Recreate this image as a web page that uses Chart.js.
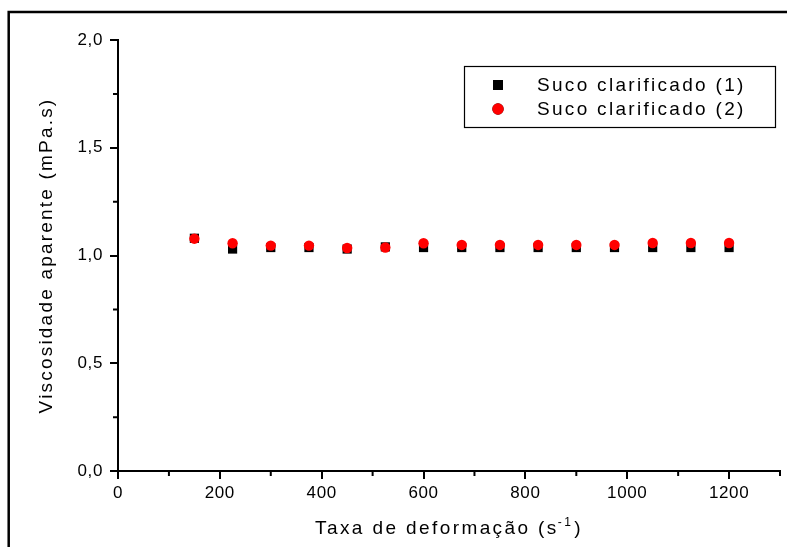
<!DOCTYPE html>
<html>
<head>
<meta charset="utf-8">
<script src="https://cdn.jsdelivr.net/npm/chart.js@4.4.1/dist/chart.umd.min.js"></script>
<style>
  html, body { margin: 0; padding: 0; background: #fff; }
</style>
</head>
<body>
<canvas id="chart" width="787" height="547"></canvas>
<script>
// shear rate (1/s)
var shearRate = [150, 225, 300, 375, 450, 525, 600, 675, 750, 825, 900, 975, 1050, 1125, 1200];
var suco1 = [1.08, 1.03, 1.037, 1.037, 1.03, 1.04, 1.037, 1.037, 1.037, 1.037, 1.037, 1.037, 1.037, 1.037, 1.037];
var suco2 = [1.078, 1.057, 1.046, 1.046, 1.035, 1.037, 1.057, 1.049, 1.049, 1.049, 1.049, 1.049, 1.058, 1.058, 1.058];
var seriesNames = ['Suco clarificado (1)', 'Suco clarificado (2)'];
var xMajor = [0, 200, 400, 600, 800, 1000, 1200];
var xMinor = [100, 300, 500, 700, 900, 1100, 1300];
var yMinor = [0.25, 0.75, 1.25, 1.75];

var FONT = "'Liberation Sans', Arial, sans-serif";

function points(ys) {
    return shearRate.map(function (x, i) { return { x: x, y: ys[i] }; });
}

var extras = {
    id: 'extras',
    beforeDraw: function (chart) {
        chart.ctx.letterSpacing = '0.6px';
    },
    afterDraw: function (chart) {
        var ctx = chart.ctx;
        var xs = chart.scales.x, ys = chart.scales.y;
        var a = chart.chartArea;
        ctx.save();
        ctx.strokeStyle = '#000';
        ctx.fillStyle = '#000';

        // minor ticks
        ctx.lineWidth = 2;
        ctx.beginPath();
        xMinor.forEach(function (v) {
            var px = xs.getPixelForValue(v);
            ctx.moveTo(px, a.bottom);
            ctx.lineTo(px, a.bottom + 5);
        });
        yMinor.forEach(function (v) {
            var py = ys.getPixelForValue(v);
            ctx.moveTo(a.left, py);
            ctx.lineTo(a.left - 5, py);
        });
        ctx.stroke();

        // outer frame (top and left)
        ctx.lineWidth = 2.5;
        ctx.beginPath();
        ctx.moveTo(8.7, 547);
        ctx.lineTo(8.7, 12);
        ctx.lineTo(787, 12);
        ctx.stroke();

        // y title
        ctx.letterSpacing = '2.2px';
        ctx.font = '19px ' + FONT;
        ctx.textAlign = 'center';
        ctx.textBaseline = 'middle';
        ctx.save();
        ctx.translate(47, (a.top + a.bottom) / 2);
        ctx.rotate(-Math.PI / 2);
        ctx.fillText('Viscosidade aparente (mPa.s)', 0, 0);
        ctx.restore();

        // x title with superscript
        ctx.letterSpacing = '2.4px';
        ctx.textAlign = 'left';
        ctx.textBaseline = 'alphabetic';
        var p1 = 'Taxa de deformação (s', sup = '-1', p2 = ')';
        ctx.font = '19px ' + FONT;
        var w1 = ctx.measureText(p1).width, w3 = ctx.measureText(p2).width;
        ctx.font = '12px ' + FONT;
        var w2 = ctx.measureText(sup).width;
        var x0 = (a.left + a.right) / 2 - (w1 + w2 + w3) / 2;
        var base = 534;
        ctx.font = '19px ' + FONT;
        ctx.fillText(p1, x0, base);
        ctx.font = '12px ' + FONT;
        ctx.fillText(sup, x0 + w1 - 1, base - 8);
        ctx.font = '19px ' + FONT;
        ctx.fillText(p2, x0 + w1 + w2, base);

        // legend box
        ctx.lineWidth = 1.2;
        ctx.strokeRect(464.5, 66.5, 311, 61);
        var rows = [85, 109];
        chart.data.datasets.forEach(function (ds, i) {
            Chart.helpers.drawPoint(ctx, {
                pointStyle: ds.pointStyle,
                radius: ds.pointRadius + 0.5,
                borderWidth: 0
            }, 498, rows[i]);
            ctx.fillStyle = ds.backgroundColor;
            ctx.fill();
            ctx.fillStyle = '#000';
            ctx.letterSpacing = '2.3px';
            ctx.font = '19px ' + FONT;
            ctx.textBaseline = 'middle';
            ctx.fillText(seriesNames[i], 537, rows[i] + 1);
        });
        ctx.restore();
    }
};

var axisCommon = {
    type: 'linear',
    grid: { drawOnChartArea: false, drawTicks: true, tickLength: 8, color: '#000', lineWidth: 2 },
    border: { color: '#000', width: 2 },
    title: { display: false }
};

new Chart(document.getElementById('chart'), {
    type: 'scatter',
    data: {
        datasets: [{
            label: seriesNames[0],
            data: points(suco1),
            pointStyle: 'rect',
            pointRadius: 6.5,
            backgroundColor: '#000',
            borderWidth: 0,
            order: 2
        }, {
            label: seriesNames[1],
            data: points(suco2),
            pointStyle: 'circle',
            pointRadius: 5.2,
            backgroundColor: '#ff0000',
            borderWidth: 0,
            order: 1
        }]
    },
    options: {
        responsive: false,
        animation: false,
        layout: { padding: { top: 40, right: 7, left: 0, bottom: 0 } },
        plugins: { legend: { display: false }, tooltip: { enabled: false } },
        scales: {
            x: Object.assign({}, axisCommon, {
                position: 'bottom',
                min: 0,
                max: 1300,
                afterBuildTicks: function (s) {
                    s.ticks = xMajor.map(function (v) { return { value: v }; });
                },
                afterFit: function (s) { s.height = 76; },
                ticks: {
                    color: '#000', font: { family: FONT, size: 17 }, padding: 4, maxRotation: 0,
                    callback: function (v) { return String(v); }
                }
            }),
            y: Object.assign({}, axisCommon, {
                position: 'left',
                min: 0,
                max: 2,
                ticks: {
                    stepSize: 0.5,
                    color: '#000',
                    font: { family: FONT, size: 17 },
                    padding: 7,
                    callback: function (v) { return v.toFixed(1).replace('.', ','); }
                },
                afterFit: function (s) { s.width = 118; }
            })
        }
    },
    plugins: [extras]
});
</script>
</body>
</html>
